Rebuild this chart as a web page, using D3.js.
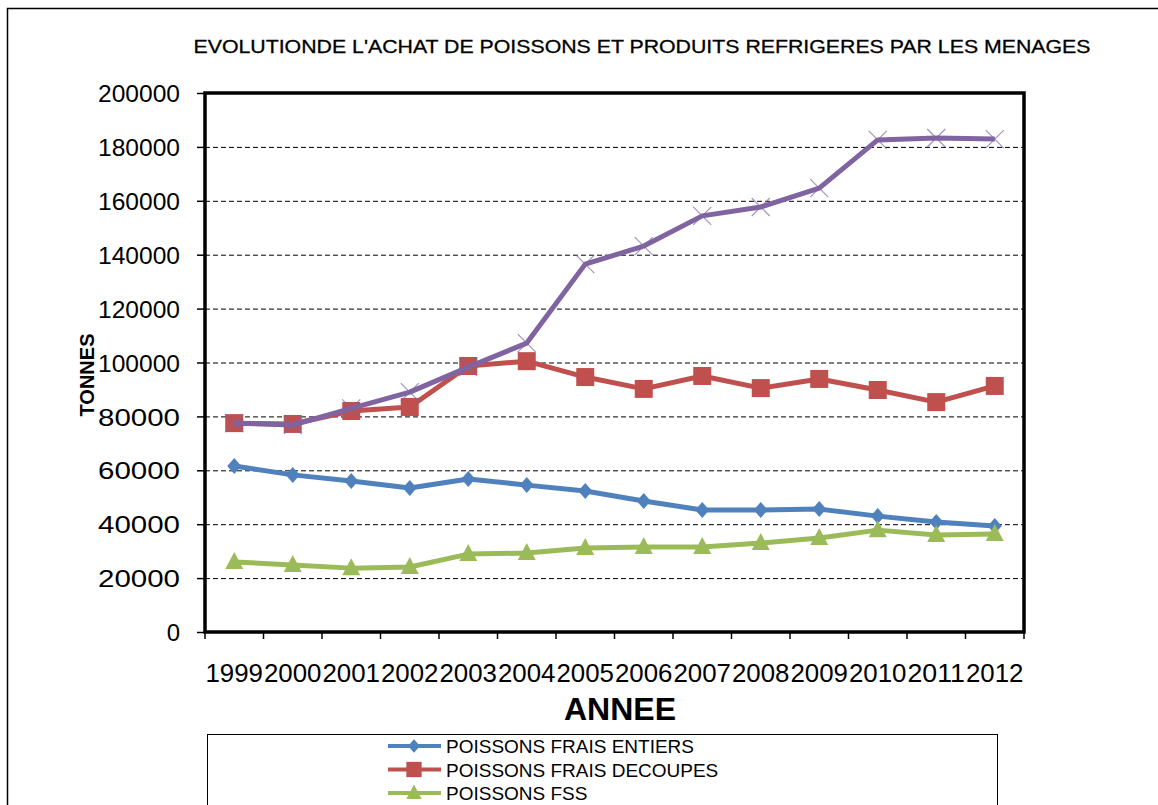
<!DOCTYPE html>
<html>
<head>
<meta charset="utf-8">
<script src="https://cdn.jsdelivr.net/npm/d3@7"></script>
<style>
  body { margin: 0; background: #fff; }
  text { font-family: "Liberation Sans", Arial, sans-serif; fill: #000; }
</style>
</head>
<body>
<div id="graph"></div>
<script>
var years = ["1999","2000","2001","2002","2003","2004","2005","2006","2007","2008","2009","2010","2011","2012"];
var entiers  = [61600, 58300, 56000, 53400, 56800, 54500, 52300, 48600, 45300, 45300, 45600, 43000, 40800, 39300];
var decoupes = [77500, 77200, 82000, 83500, 98700, 100500, 94600, 90200, 95000, 90500, 93900, 89800, 85300, 91300];
var fss      = [26000, 24900, 23700, 24100, 28900, 29300, 31200, 31500, 31500, 33000, 34900, 37800, 36000, 36400];
var refrig   = [77500, 76800, 83000, 89000, 98300, 107200, 136500, 143200, 154400, 157700, 164700, 182600, 183300, 182900];
var yTicks = [0, 20000, 40000, 60000, 80000, 100000, 120000, 140000, 160000, 180000, 200000];
var legendNames = ["POISSONS FRAIS ENTIERS", "POISSONS FRAIS DECOUPES", "POISSONS FSS"];

var width = 1158, height = 805;
var plotLeft = 205, plotRight = 1024, plotTop = 93, plotBottom = 632;

var series = [
  { values: entiers,  color: "#4F81BD", marker: "diamond" },
  { values: decoupes, color: "#C0504D", marker: "square" },
  { values: fss,      color: "#9BBB59", marker: "triangle" },
  { values: refrig,   color: "#8064A2", marker: "cross" }
];

var x = d3.scaleBand().domain(years).range([plotLeft, plotRight]);
var y = d3.scaleLinear().domain([0, 200000]).range([plotBottom, plotTop]);

var svg = d3.select("#graph").append("svg")
    .attr("width", width)
    .attr("height", height);

// outer frame
svg.append("rect")
    .attr("x", 7.5).attr("y", 8.5)
    .attr("width", 1200).attr("height", 900)
    .attr("fill", "none").attr("stroke", "#000").attr("stroke-width", 1.5);

svg.append("text")
    .attr("x", 642).attr("y", 53)
    .attr("text-anchor", "middle")
    .attr("textLength", 897).attr("lengthAdjust", "spacingAndGlyphs")
    .style("font-size", "19px")
    .style("stroke", "#000").style("stroke-width", 0.3)
    .text("EVOLUTIONDE L'ACHAT DE POISSONS ET PRODUITS REFRIGERES PAR LES MENAGES");

// grid
svg.append("g").selectAll("line")
    .data(yTicks.filter(function(d) { return d > 0 && d < 200000; }))
  .enter().append("line")
    .attr("x1", plotLeft).attr("x2", plotRight)
    .attr("y1", function(d) { return y(d) + 0.5; })
    .attr("y2", function(d) { return y(d) + 0.5; })
    .attr("stroke", "#000").attr("stroke-width", 1)
    .attr("stroke-dasharray", "5,3");

// y axis
var yAxis = svg.append("g")
    .attr("transform", "translate(" + plotLeft + ",0)")
    .call(d3.axisLeft(y).tickValues(yTicks).tickSize(8).tickPadding(17).tickFormat(d3.format("d")));
yAxis.select(".domain").remove();
yAxis.selectAll(".tick line").attr("stroke", "#000").attr("stroke-width", 1.5);
yAxis.selectAll("text").style("font-size", "24px").attr("dy", "0.36em")
    .attr("textLength", 82).attr("lengthAdjust", "spacingAndGlyphs");
yAxis.selectAll("text").filter(function(d) { return d == 0; }).attr("textLength", null);

// x axis
var xAxis = svg.append("g")
    .attr("transform", "translate(0," + plotBottom + ")")
    .call(d3.axisBottom(x).tickSize(0).tickPadding(32));
xAxis.select(".domain").remove();
xAxis.selectAll("text").style("font-size", "25px")
    .attr("textLength", x.bandwidth() - 1).attr("lengthAdjust", "spacingAndGlyphs");

svg.append("g").selectAll("line")
    .data(years.concat(["end"]))
  .enter().append("line")
    .attr("x1", function(d, i) { return plotLeft + i * x.step(); })
    .attr("x2", function(d, i) { return plotLeft + i * x.step(); })
    .attr("y1", plotBottom).attr("y2", plotBottom + 7)
    .attr("stroke", "#000").attr("stroke-width", 1.5);

// plot frame
svg.append("rect")
    .attr("x", plotLeft).attr("y", plotTop)
    .attr("width", plotRight - plotLeft).attr("height", plotBottom - plotTop)
    .attr("fill", "none").attr("stroke", "#000").attr("stroke-width", 3.5);

svg.append("text")
    .attr("x", 620).attr("y", 720)
    .attr("text-anchor", "middle")
    .style("font-size", "32px").style("font-weight", "bold")
    .text("ANNEE");

svg.append("text")
    .attr("transform", "translate(94,375) rotate(-90)")
    .attr("text-anchor", "middle")
    .style("font-size", "20px").style("font-weight", "bold")
    .text("TONNES");

function drawMarker(g, type, color) {
  if (type == "diamond") {
    g.append("path").attr("d", "M0,-8L7,0L0,8L-7,0Z").attr("fill", color);
  } else if (type == "square") {
    g.append("rect").attr("x", -9).attr("y", -9).attr("width", 18).attr("height", 18).attr("fill", color);
  } else if (type == "triangle") {
    g.append("path").attr("d", "M0,-10L9,7L-9,7Z").attr("fill", color);
  } else {
    g.append("path").attr("d", "M-9,-9L9,9M-9,9L9,-9")
      .attr("stroke", color).attr("stroke-width", 1.2).attr("opacity", 0.7).attr("fill", "none");
  }
}

var line = d3.line()
    .x(function(d, i) { return x(years[i]) + x.bandwidth() / 2; })
    .y(function(d) { return y(d); });

series.forEach(function(s) {
  var g = svg.append("g");
  g.append("path")
    .attr("d", line(s.values))
    .attr("fill", "none")
    .attr("stroke", s.color)
    .attr("stroke-width", 5)
    .attr("stroke-linejoin", "round");
  g.selectAll(".pt")
      .data(s.values)
    .enter().append("g")
      .attr("class", "pt")
      .attr("transform", function(d, i) { return "translate(" + (x(years[i]) + x.bandwidth() / 2) + "," + y(d) + ")"; })
      .each(function() { drawMarker(d3.select(this), s.marker, s.color); });
});

// legend
var legend = svg.append("g");
legend.append("rect")
    .attr("x", 207.5).attr("y", 734.5)
    .attr("width", 790).attr("height", 120)
    .attr("fill", "#fff").attr("stroke", "#000").attr("stroke-width", 1);

var li = legend.selectAll(".li")
    .data(legendNames)
  .enter().append("g")
    .attr("class", "li")
    .attr("transform", function(d, i) { return "translate(0," + (746 + i * 23.5) + ")"; });
li.append("line")
    .attr("x1", 388).attr("x2", 441)
    .attr("stroke", function(d, i) { return series[i].color; })
    .attr("stroke-width", 4);
li.each(function(d, i) {
  var m = d3.select(this).append("g").attr("transform", "translate(414,0) scale(0.85)");
  drawMarker(m, series[i].marker, series[i].color);
});
li.append("text")
    .attr("x", 446).attr("y", 7)
    .style("font-size", "18px")
    .text(function(d) { return d; })
    .each(function() {
      var w = this.getComputedTextLength();
      d3.select(this).attr("textLength", w * 1.055).attr("lengthAdjust", "spacingAndGlyphs");
    });
</script>
</body>
</html>
